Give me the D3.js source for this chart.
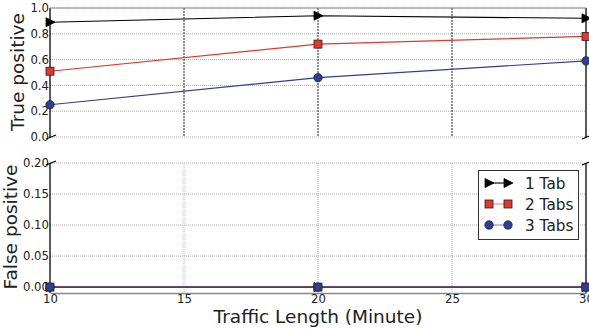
<!DOCTYPE html>
<html>
<head>
<meta charset="utf-8">
<script src="https://cdn.jsdelivr.net/npm/d3@7"></script>
<style>
  body { margin: 0; background: #fff; }
  text { font-family: "DejaVu Sans", sans-serif; fill: #222; }
</style>
</head>
<body>
<div class="chart"></div>
<script>
// data
const minutes = [10, 20, 30];
const seriesNames = ["1 Tab", "2 Tabs", "3 Tabs"];
const truePos1 = [0.89, 0.94, 0.92];
const truePos2 = [0.51, 0.72, 0.78];
const truePos3 = [0.25, 0.46, 0.59];
const falsePos1 = [0, 0, 0];
const falsePos2 = [0, 0, 0];
const falsePos3 = [0, 0, 0];
const xTicks = [10, 15, 20, 25, 30];
const topTicks = [0.0, 0.2, 0.4, 0.6, 0.8, 1.0];
const bottomTicks = [0.00, 0.05, 0.10, 0.15, 0.20];

const colors = ["#000000", "#e3372b", "#2b3f9c"];
const shapes = ["tri", "square", "circle"];

const outWidth = 589, outHeight = 329;
const left = 50, right = 586;

const svg = d3.select(".chart").append("svg")
    .attr("width", outWidth)
    .attr("height", outHeight);

let xScale = d3.scaleLinear().domain([10, 30]).range([left, right]);
let yTop = d3.scaleLinear().domain([0, 1]).range([137, 8]);
let yBot = d3.scaleLinear().domain([-0.0095, 0.2]).range([293, 163]);

function panel(yScale, ticks, fmt, yTopPx, yBotPx) {
    const g = svg.append("g");
    // horizontal grid
    g.selectAll(".hgrid").data(ticks).enter().append("line")
        .attr("x1", left).attr("x2", right)
        .attr("y1", d => yScale(d)).attr("y2", d => yScale(d))
        .attr("stroke", "#999").attr("stroke-width", 0.8)
        .attr("stroke-dasharray", "1,1");
    // y axis
    const yAxis = d3.axisLeft(yScale).tickValues(ticks).tickFormat(fmt).tickSize(0).tickPadding(1);
    const ya = g.append("g").attr("transform", `translate(${left},0)`).call(yAxis);
    ya.select(".domain").remove();
    ya.selectAll("text").attr("font-size", 11.7).style("font-family", "DejaVu Sans").attr("fill", "#222");
    // spines
    g.append("line").attr("x1", left).attr("x2", left).attr("y1", yTopPx).attr("y2", yBotPx)
        .attr("stroke", "#000").attr("stroke-width", 1.3);
    g.append("line").attr("x1", right).attr("x2", right).attr("y1", yTopPx).attr("y2", yBotPx)
        .attr("stroke", "#000").attr("stroke-width", 1.3);
    return g;
}

const gTop = panel(yTop, topTicks, d3.format(".1f"), 8, 137);
const gBot = panel(yBot, bottomTicks, d3.format(".2f"), 163, 293);

// vertical grid
gTop.selectAll(".vgrid").data(xTicks.slice(1, 4)).enter().append("line")
    .attr("x1", d => xScale(d)).attr("x2", d => xScale(d))
    .attr("y1", 8).attr("y2", 137)
    .attr("stroke", "#222").attr("stroke-width", 1)
    .attr("stroke-dasharray", "2,1");
gBot.selectAll(".vgrid").data(xTicks.slice(1, 4)).enter().append("line")
    .attr("x1", d => xScale(d)).attr("x2", d => xScale(d))
    .attr("y1", 163).attr("y2", 293)
    .attr("stroke", "#999").attr("stroke-width", 0.8)
    .attr("stroke-dasharray", "1,1");

// top spine of top panel
gTop.append("line").attr("x1", left).attr("x2", right).attr("y1", 8).attr("y2", 8)
    .attr("stroke", "#888").attr("stroke-width", 1);

// bottom x axis
const xAxis = d3.axisBottom(xScale).tickValues(xTicks).tickSize(0).tickPadding(2);
const xa = svg.append("g").attr("transform", "translate(0,293)").call(xAxis);
xa.select(".domain").attr("stroke", "#888").attr("stroke-width", 1.6);
xa.selectAll("text").attr("font-size", 11.7).style("font-family", "DejaVu Sans").attr("fill", "#222");

// break marks
[[left, 137], [right, 137], [left, 163], [right, 163]].forEach(p => {
    svg.append("line")
        .attr("x1", p[0] - 4).attr("y1", p[1] + 2)
        .attr("x2", p[0] + 6).attr("y2", p[1] - 2)
        .attr("stroke", "#000").attr("stroke-width", 1.2);
});

function marker(sel, shape, color) {
    if (shape === "tri") {
        sel.append("path").attr("d", "M-4,-4.5 L5,0 L-4,4.5 Z")
            .attr("fill", color).attr("stroke", "#000").attr("stroke-width", 0.8);
    } else if (shape === "square") {
        sel.append("rect").attr("x", -4).attr("y", -4).attr("width", 8).attr("height", 8)
            .attr("fill", color).attr("stroke", "#222").attr("stroke-width", 0.8);
    } else {
        sel.append("circle").attr("r", 4.2)
            .attr("fill", color).attr("stroke", "#222").attr("stroke-width", 0.8);
    }
}

function drawSeries(g, yScale, values, i) {
    const pts = minutes.map((m, j) => ({ x: m, y: values[j] }));
    const line = d3.line().x(d => xScale(d.x)).y(d => yScale(d.y));
    g.append("path").datum(pts)
        .attr("d", line)
        .attr("fill", "none")
        .attr("stroke", colors[i])
        .attr("stroke-width", 1.1);
    g.selectAll(".m" + i).data(pts).enter().append("g")
        .attr("transform", d => `translate(${xScale(d.x)},${yScale(d.y)})`)
        .each(function () { marker(d3.select(this), shapes[i], colors[i]); });
}

[truePos1, truePos2, truePos3].forEach((v, i) => drawSeries(svg.append("g"), yTop, v, i));
[falsePos1, falsePos2, falsePos3].forEach((v, i) => drawSeries(svg.append("g"), yBot, v, i));

// axis labels
svg.append("text")
    .attr("transform", `translate(24,72) rotate(-90)`)
    .attr("text-anchor", "middle")
    .attr("font-size", 18.5)
    .text("True positive");
svg.append("text")
    .attr("transform", `translate(17,227) rotate(-90)`)
    .attr("text-anchor", "middle")
    .attr("font-size", 18.5)
    .text("False positive");
svg.append("text")
    .attr("x", 318).attr("y", 323)
    .attr("text-anchor", "middle")
    .attr("font-size", 18.5)
    .text("Traffic Length (Minute)");

// legend
const legend = svg.append("g");
legend.append("rect")
    .attr("x", 478.5).attr("y", 170.5).attr("width", 100).attr("height", 69)
    .attr("fill", "#fff").attr("stroke", "#333").attr("stroke-width", 1);
seriesNames.forEach((name, i) => {
    const y = 183 + i * 21;
    legend.append("line")
        .attr("x1", 489).attr("x2", 508).attr("y1", y).attr("y2", y)
        .attr("stroke", colors[i]).attr("stroke-width", 1.1).attr("stroke-opacity", i === 0 ? 1 : 0.6);
    marker(legend.append("g").attr("transform", `translate(489,${y})`), shapes[i], colors[i]);
    marker(legend.append("g").attr("transform", `translate(508,${y})`), shapes[i], colors[i]);
    legend.append("text")
        .attr("x", 525).attr("y", y + 5.5)
        .attr("font-size", 15.3)
        .text(name);
});
</script>
</body>
</html>
